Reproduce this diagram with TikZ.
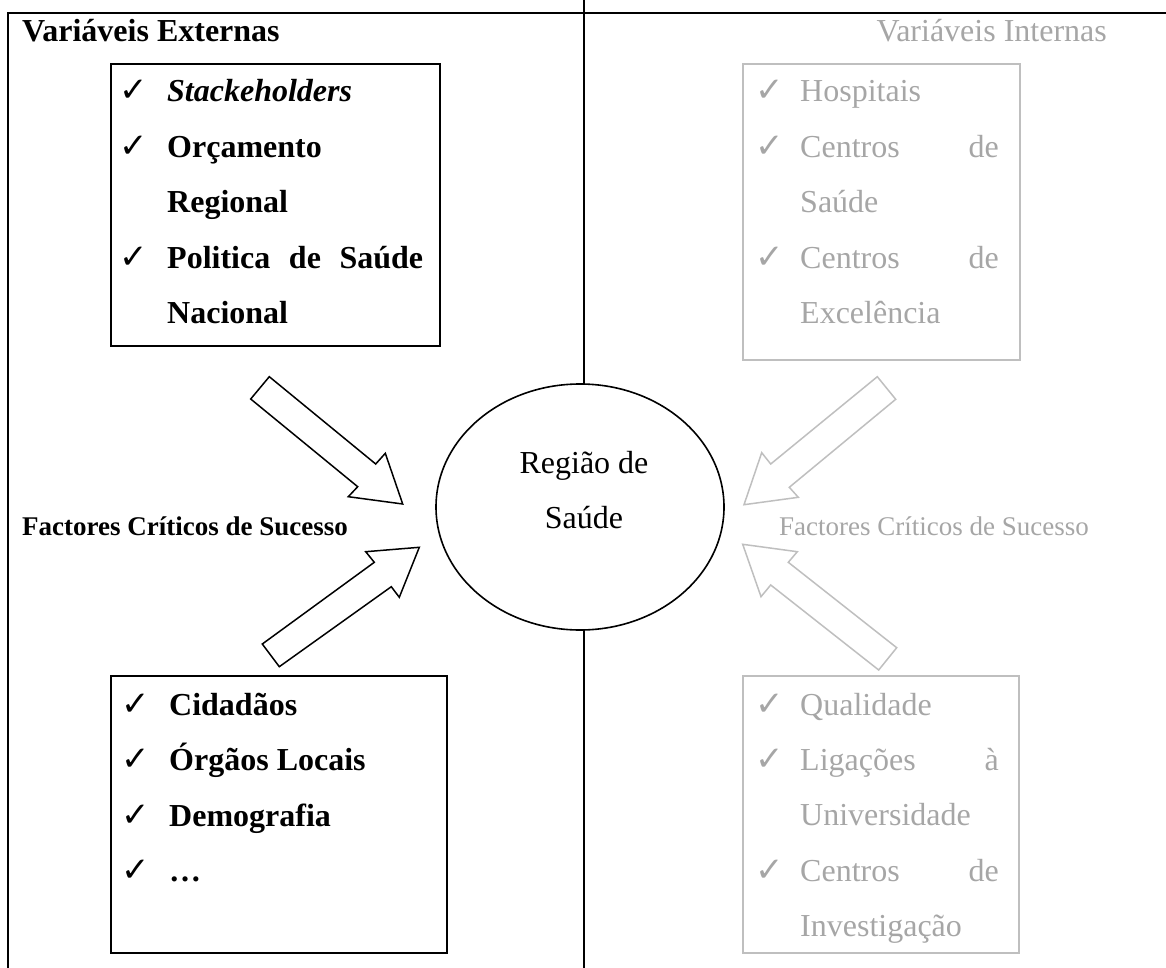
\documentclass[tikz,border=0pt]{standalone}
\usepackage{fontspec}
\setmainfont{Liberation Serif}
\newfontfamily\symfont{DejaVu Sans}
\begin{document}
\begin{tikzpicture}[x=1pt,y=-1pt,
  frame/.style={line width=2.2pt,black},
  faded/.style={text=black!35},
  fadedline/.style={draw=black!25},
  listbox/.style={draw,line width=1.8pt},
  blockarrow/.style={draw,line width=1.5pt,fill=white,line join=miter},
  item/.style={anchor=base west,inner sep=0pt,font=\fontsize{32}{38}\selectfont},
  bitem/.style={anchor=base west,inner sep=0pt,font=\bfseries\fontsize{32}{38}\selectfont},
  itemr/.style={anchor=base east,inner sep=0pt,font=\fontsize{32}{38}\selectfont},
  tick/.style={anchor=base west,inner sep=0pt,font=\symfont\fontsize{34}{38}\selectfont},
  small/.style={anchor=base west,inner sep=0pt,font=\fontsize{27}{32}\selectfont}
]
\useasboundingbox (0,0) rectangle (1166,968);

% outer frame and central divider
\draw[frame] (8,968) -- (8,13) -- (1166,13);
\draw[frame] (584,0) -- (584,384);
\draw[frame] (584,630) -- (584,968);

% headings
\node[bitem] (hExt) at (22,42) {Variáveis Externas};
\node[itemr,faded] (hInt) at (1107,42) {Variáveis Internas};

% central region
\draw[line width=1.6pt] (580,507) ellipse [x radius=144, y radius=123];
\node[anchor=base,inner sep=0pt,font=\fontsize{32}{38}\selectfont] (reg1) at (584,473) {Região de};
\node[anchor=base,inner sep=0pt,font=\fontsize{32}{38}\selectfont] (reg2) at (584,528) {Saúde};

% critical success factors
\node[small,font=\bfseries\fontsize{27}{32}\selectfont] (fcsL) at (22,535) {Factores Críticos de Sucesso};
\node[small,faded] (fcsR) at (779,535) {Factores Críticos de Sucesso};

% block arrows, external side
\draw[blockarrow] (250.7,399) -- (269.3,376.7) -- (375.7,464) -- (385.3,453.3)
  -- (402.7,504) -- (348.3,496.7) -- (357.7,486.7) -- cycle;
\draw[blockarrow] (262.3,644) -- (374.3,562.3) -- (365.7,551.7) -- (419.3,547.3)
  -- (399.3,597.3) -- (391.3,586.7) -- (279.3,666.7) -- cycle;

% block arrows, internal side
\draw[blockarrow,fadedline] (877.3,376.7) -- (895.7,399.3) -- (789.3,487.3) -- (798.3,497.3)
  -- (744,504.7) -- (761.7,452.7) -- (770.7,464) -- cycle;
\draw[blockarrow,fadedline] (896.7,647.7) -- (788.3,562.3) -- (797.3,551.7) -- (742.7,544.3)
  -- (761,596.7) -- (770.7,585) -- (878.7,670) -- cycle;

% external variables, upper box
\draw[listbox] (111,64) rectangle (440,346);
\node[tick] (t1) at (119,102) {✓};
\node[bitem,font=\bfseries\itshape\fontsize{32}{38}\selectfont] (e1) at (167,102) {Stackeholders};
\node[tick] (t2) at (119,157.4) {✓};
\node[bitem] (e2) at (167,157.4) {Orçamento};
\node[bitem] (e2b) at (167,212.8) {Regional};
\node[tick] (t3) at (119,268.2) {✓};
\node[bitem] (e3) at (167,268.2) {\makebox[256pt][s]{Politica de Saúde}};
\node[bitem] (e3b) at (167,323.6) {Nacional};

% external variables, lower box
\draw[listbox] (111,676) rectangle (447,953);
\node[tick] (t4) at (121,715.5) {✓};
\node[bitem] (l1) at (169,715.5) {Cidadãos};
\node[tick] (t5) at (121,770.9) {✓};
\node[bitem] (l2) at (169,770.9) {Órgãos Locais};
\node[tick] (t6) at (121,826.3) {✓};
\node[bitem] (l3) at (169,826.3) {Demografia};
\node[tick] (t7) at (121,881.7) {✓};
\node[bitem] (l4) at (169,881.7) {…};

% internal variables, upper box
\draw[listbox,fadedline] (743,64) rectangle (1020,360);
\node[tick,faded] (t8) at (755,102) {✓};
\node[item,faded] (i1) at (800,102) {Hospitais};
\node[tick,faded] (t9) at (755,157.4) {✓};
\node[item,faded] (i2) at (800,157.4) {Centros};
\node[itemr,faded] (i2r) at (999,157.4) {de};
\node[item,faded] (i2b) at (800,212.8) {Saúde};
\node[tick,faded] (t10) at (755,268.2) {✓};
\node[item,faded] (i3) at (800,268.2) {Centros};
\node[itemr,faded] (i3r) at (999,268.2) {de};
\node[item,faded] (i3b) at (800,323.6) {Excelência};

% internal variables, lower box
\draw[listbox,fadedline] (743,676) rectangle (1019,953);
\node[tick,faded] (t11) at (755,715) {✓};
\node[item,faded] (q1) at (800,715) {Qualidade};
\node[tick,faded] (t12) at (755,770.4) {✓};
\node[item,faded] (q2) at (800,770.4) {Ligações};
\node[itemr,faded] (q2r) at (999,770.4) {à};
\node[item,faded] (q2b) at (800,825.8) {Universidade};
\node[tick,faded] (t13) at (755,881.2) {✓};
\node[item,faded] (q3) at (800,881.2) {Centros};
\node[itemr,faded] (q3r) at (999,881.2) {de};
\node[item,faded] (q3b) at (800,936.6) {Investigação};
\end{tikzpicture}
\end{document}
